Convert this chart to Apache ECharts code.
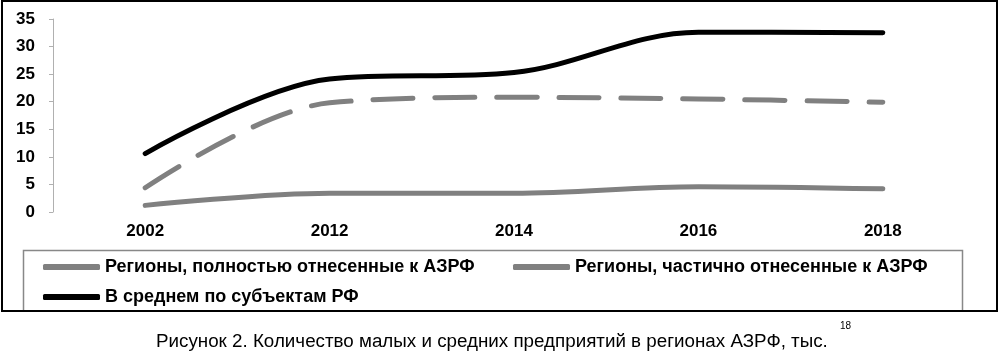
<!DOCTYPE html>
<html>
<head>
<meta charset="utf-8">
<script src="https://cdn.jsdelivr.net/npm/echarts@6/dist/echarts.min.js"></script>
<style>
  html, body { margin: 0; padding: 0; background: #fff; }
  #chart { width: 999px; height: 352px; }
</style>
</head>
<body>
<div id="chart"></div>
<script>
    'use strict';

    var years = ['2002', '2012', '2014', '2016', '2018'];
    var fullyArctic = [1.2, 3.4, 3.4, 4.6, 4.2];
    var partlyArctic = [4.4, 19.8, 20.8, 20.5, 19.9];
    var avgRF = [10.6, 24.1, 25.3, 32.6, 32.5];
    var yTicks = { min: 0, max: 35, interval: 5 };

    var names = [
        'Регионы, полностью отнесенные к АЗРФ',
        'Регионы, частично отнесенные к АЗРФ',
        'В среднем по субъектам РФ'
    ];
    var caption = 'Рисунок 2. Количество малых и средних предприятий в регионах АЗРФ, тыс.';
    var footnote = '18';

    var font = 'Liberation Sans, Arial, sans-serif';
    var legendText = { fontFamily: font, fontWeight: 'bold', fontSize: 18, color: '#000' };

    var makeLegend = function (name, color, left, top) {
        return {
            data: [{ name: name, icon: 'roundRect', itemStyle: { color: color } }],
            left: left,
            top: top,
            itemWidth: 57,
            itemHeight: 6,
            itemGap: 5,
            textStyle: legendText
        };
    };

    var chart = echarts.init(document.getElementById('chart'), null, { renderer: 'canvas' });

    var option = {
        backgroundColor: '#fff',
        animation: false,
        grid: { left: 53, right: 24, top: 19, bottom: 140 },
        xAxis: {
            type: 'category',
            data: years,
            boundaryGap: true,
            axisLine: { show: false },
            axisTick: { show: false },
            axisLabel: { margin: 11, fontFamily: font, fontWeight: 'bold', fontSize: 17, color: '#000' }
        },
        yAxis: {
            type: 'value',
            min: yTicks.min,
            max: yTicks.max,
            interval: yTicks.interval,
            splitLine: { show: false },
            axisLine: { show: true, lineStyle: { color: '#b0b0b0', width: 1 } },
            axisTick: { show: true, length: 4, lineStyle: { color: '#b0b0b0' } },
            axisLabel: { margin: 18, fontFamily: font, fontWeight: 'bold', fontSize: 17, color: '#000' }
        },
        legend: [
            makeLegend(names[0], '#808080', 38, 253),
            makeLegend(names[1], '#808080', 508, 253),
            makeLegend(names[2], '#000', 38, 283)
        ],
        title: {
            text: caption,
            left: 151,
            top: 327,
            textStyle: { fontFamily: font, fontWeight: 'normal', fontSize: 18.8, color: '#000' }
        },
        graphic: [
            {
                type: 'rect',
                shape: { x: 2, y: 1, width: 995, height: 310 },
                style: { fill: 'none', stroke: '#000', lineWidth: 2 },
                silent: true
            },
            {
                type: 'rect',
                shape: { x: 23.5, y: 250.5, width: 939, height: 70 },
                style: { fill: 'none', stroke: '#888', lineWidth: 1.5 },
                clipPath: { type: 'rect', shape: { x: 0, y: 0, width: 999, height: 310 } },
                silent: true
            },
            {
                type: 'text',
                left: 840,
                top: 321,
                style: { text: footnote, fontFamily: font, fontSize: 10, fill: '#000' },
                silent: true
            }
        ],
        series: [
            {
                name: names[0],
                type: 'line',
                data: fullyArctic,
                smooth: 0.35,
                symbol: 'none',
                lineStyle: { color: '#808080', width: 5, cap: 'round' },
                itemStyle: { color: '#808080' }
            },
            {
                name: names[1],
                type: 'line',
                data: partlyArctic,
                smooth: 0.35,
                symbol: 'none',
                lineStyle: { color: '#808080', width: 5, type: [40, 22], cap: 'round' },
                itemStyle: { color: '#808080' }
            },
            {
                name: names[2],
                type: 'line',
                data: avgRF,
                smooth: 0.35,
                symbol: 'none',
                lineStyle: { color: '#000', width: 5, cap: 'round' },
                itemStyle: { color: '#000' }
            }
        ]
    };

    chart.setOption(option);
</script>
</body>
</html>
